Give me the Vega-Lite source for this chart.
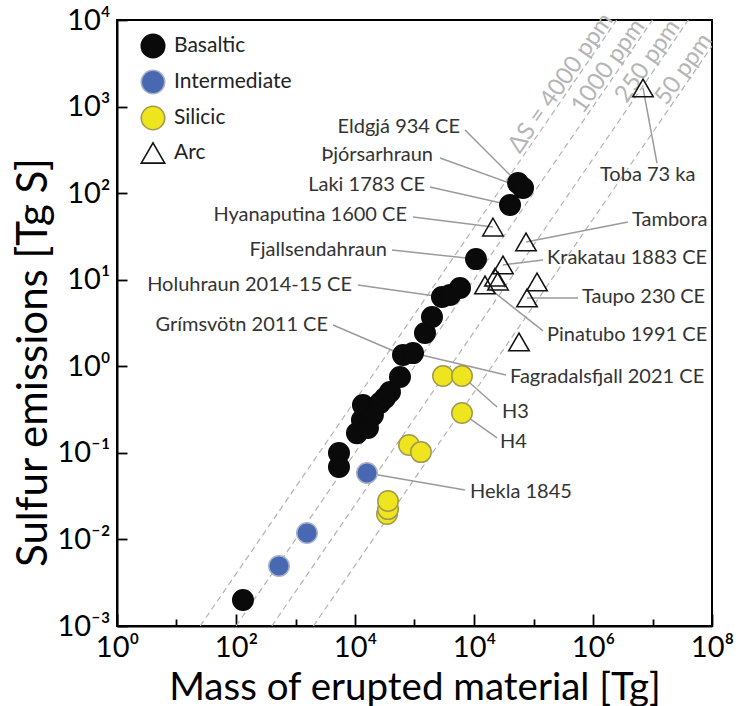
{
  "$schema": "https://vega.github.io/schema/vega-lite/v6.json",
  "width": 595,
  "height": 606,
  "autosize": "none",
  "padding": {"left": 117, "top": 20, "right": 26, "bottom": 80},
  "background": "white",
  "config": {
    "view": {"stroke": "black", "strokeWidth": 2},
    "font": "Lato",
    "legend": {
      "orient": "none", "legendX": 23, "legendY": 13, "padding": 0,
      "title": null, "symbolSize": 550, "symbolStrokeWidth": 1.6,
      "labelFont": "Lato", "labelFontSize": 21, "labelColor": "#222",
      "labelOffset": 8, "rowPadding": 6, "labelLimit": 300
    }
  },
  "datasets": {
    "dslines": [
      {"ppm": "4000", "x": 0.25, "y": 0.001}, {"ppm": "4000", "x": 2500000, "y": 10000},
      {"ppm": "1000", "x": 1, "y": 0.001}, {"ppm": "1000", "x": 10000000, "y": 10000},
      {"ppm": "250", "x": 4, "y": 0.001}, {"ppm": "250", "x": 40000000, "y": 10000},
      {"ppm": "50", "x": 20, "y": 0.001}, {"ppm": "50", "x": 100000000, "y": 5000}
    ],
    "dslabels": [
      {"t": "ΔS = 4000 ppm", "x": 399000, "y": 1596},
      {"t": "1000 ppm", "x": 2500000, "y": 2500},
      {"t": "250 ppm", "x": 11460000, "y": 2864},
      {"t": "50 ppm", "x": 46300000, "y": 2317}
    ],
    "leaders": [
      {"x": 7063, "y": 535.8, "x2": 54900, "y2": 131},
      {"x": 2685, "y": 254.6, "x2": 66600, "y2": 115},
      {"x": 1823, "y": 117.7, "x2": 40300, "y2": 72.9},
      {"x": 944, "y": 52.9, "x2": 20840, "y2": 40.6},
      {"x": 419, "y": 22.0, "x2": 10800, "y2": 17.3},
      {"x": 112, "y": 8.69, "x2": 2897, "y2": 6.31},
      {"x": 42.7, "y": 3.0, "x2": 641, "y2": 1.35},
      {"x": 34500, "y": 0.792, "x2": 944, "y2": 1.42},
      {"x": 24400, "y": 0.339, "x2": 6281, "y2": 0.773},
      {"x": 24400, "y": 0.1486, "x2": 6281, "y2": 0.288},
      {"x": 7063, "y": 0.0372, "x2": 159, "y2": 0.0585},
      {"x": 11900000, "y": 222.7, "x2": 6920000, "y2": 1641},
      {"x": 3870000, "y": 46.5, "x2": 74800, "y2": 27.3},
      {"x": 144500, "y": 16.9, "x2": 30700, "y2": 14.8},
      {"x": 560000, "y": 6.15, "x2": 77800, "y2": 6.15},
      {"x": 144500, "y": 2.56, "x2": 15300, "y2": 8.69}
    ],
    "labelsRight": [
      {"t": "Eldgjá 934 CE", "x": 5821, "y": 580.8},
      {"t": "Þjórsarhraun", "x": 2047, "y": 276},
      {"t": "Laki 1783 CE", "x": 1500, "y": 124.2},
      {"t": "Hyanaputina 1600 CE", "x": 748, "y": 55.9},
      {"t": "Fjallsendahraun", "x": 345, "y": 22.0},
      {"t": "Holuhraun 2014-15 CE", "x": 89.1, "y": 8.69},
      {"t": "Grímsvötn 2011 CE", "x": 35.2, "y": 3.0}
    ],
    "labelsLeft": [
      {"t": "Fagradalsfjall 2021 CE", "x": 40270, "y": 0.752},
      {"t": "H3", "x": 29600, "y": 0.297},
      {"t": "H4", "x": 27400, "y": 0.133},
      {"t": "Hekla 1845", "x": 8570, "y": 0.0353},
      {"t": "Toba 73 ka", "x": 1310000, "y": 162.3},
      {"t": "Tambora", "x": 4520000, "y": 49.0},
      {"t": "Krakatau 1883 CE", "x": 169000, "y": 17.8},
      {"t": "Taupo 230 CE", "x": 653000, "y": 6.31},
      {"t": "Pinatubo 1991 CE", "x": 169000, "y": 2.30}
    ],
    "points": [
      {"type": "Basaltic", "x": 1.31, "y": 0.0020},
      {"type": "Basaltic", "x": 53.8, "y": 0.0995},
      {"type": "Basaltic", "x": 53.8, "y": 0.0687},
      {"type": "Basaltic", "x": 108, "y": 0.169},
      {"type": "Basaltic", "x": 131, "y": 0.239},
      {"type": "Basaltic", "x": 136, "y": 0.357},
      {"type": "Basaltic", "x": 165, "y": 0.194},
      {"type": "Basaltic", "x": 200, "y": 0.273},
      {"type": "Basaltic", "x": 263, "y": 0.377},
      {"type": "Basaltic", "x": 319, "y": 0.430},
      {"type": "Basaltic", "x": 387, "y": 0.505},
      {"type": "Basaltic", "x": 570, "y": 0.752},
      {"type": "Basaltic", "x": 641, "y": 1.35},
      {"type": "Basaltic", "x": 944, "y": 1.42},
      {"type": "Basaltic", "x": 1500, "y": 2.42},
      {"type": "Basaltic", "x": 1968, "y": 3.71},
      {"type": "Basaltic", "x": 2897, "y": 6.31},
      {"type": "Basaltic", "x": 3953, "y": 6.65},
      {"type": "Basaltic", "x": 5821, "y": 8.02},
      {"type": "Basaltic", "x": 10800, "y": 17.3},
      {"type": "Basaltic", "x": 40300, "y": 72.9},
      {"type": "Basaltic", "x": 54900, "y": 131},
      {"type": "Basaltic", "x": 66600, "y": 115},
      {"type": "Intermediate", "x": 5.28, "y": 0.00493},
      {"type": "Intermediate", "x": 15.6, "y": 0.01186},
      {"type": "Intermediate", "x": 159, "y": 0.0585},
      {"type": "Silicic", "x": 3013, "y": 0.773},
      {"type": "Silicic", "x": 6281, "y": 0.773},
      {"type": "Silicic", "x": 6281, "y": 0.288},
      {"type": "Silicic", "x": 809, "y": 0.123},
      {"type": "Silicic", "x": 1285, "y": 0.102},
      {"type": "Silicic", "x": 345, "y": 0.0197},
      {"type": "Silicic", "x": 359, "y": 0.0224},
      {"type": "Silicic", "x": 359, "y": 0.0278},
      {"type": "Arc", "x": 6920000, "y": 1641},
      {"type": "Arc", "x": 20840, "y": 40.6},
      {"type": "Arc", "x": 74800, "y": 27.3},
      {"type": "Arc", "x": 30700, "y": 14.8},
      {"type": "Arc", "x": 22500, "y": 10.7},
      {"type": "Arc", "x": 25300, "y": 9.66},
      {"type": "Arc", "x": 15300, "y": 8.69},
      {"type": "Arc", "x": 114600, "y": 9.42},
      {"type": "Arc", "x": 77800, "y": 6.15},
      {"type": "Arc", "x": 57000, "y": 1.91}
    ]
  },
  "encoding": {
    "x": {
      "field": "x", "type": "quantitative",
      "scale": {"type": "log", "domain": [0.01, 100000000], "nice": false},
      "axis": {
        "values": [0.01, 0.1, 1, 10, 100, 1000, 10000, 100000, 1000000, 10000000, 100000000],
        "labelExpr": "round(log(datum.value)/LN10) % 2 != 0 ? '' : datum.value < 0.1 ? '10⁰' : datum.value < 10 ? '10²' : datum.value < 100000 ? '10⁴' : datum.value < 10000000 ? '10⁶' : '10⁸'",
        "tickSize": {"condition": {"test": "round(log(datum.value)/LN10) % 2 != 0", "value": -7}, "value": -12},
        "tickColor": "black", "tickWidth": 1.8,
        "domainColor": "black", "domainWidth": 2,
        "grid": false, "labelFlush": false, "labelOverlap": false, "labelBound": false,
        "labelFont": "Lato", "labelFontSize": 29, "labelColor": "black", "labelPadding": 19,
        "title": "Mass of erupted material [Tg]", "titleFont": "Lato", "titleFontSize": 38.5,
        "titleFontWeight": "normal", "titleColor": "black", "titlePadding": 2
      }
    },
    "y": {
      "field": "y", "type": "quantitative",
      "scale": {"type": "log", "domain": [0.001, 10000], "nice": false},
      "axis": {
        "values": [0.001, 0.01, 0.1, 1, 10, 100, 1000, 10000],
        "labelExpr": "datum.value < 0.005 ? '10⁻³' : datum.value < 0.05 ? '10⁻²' : datum.value < 0.5 ? '10⁻¹' : datum.value < 5 ? '10⁰' : datum.value < 50 ? '10¹' : datum.value < 500 ? '10²' : datum.value < 5000 ? '10³' : '10⁴'",
        "tickSize": -10, "tickColor": "black", "tickWidth": 1.8,
        "domainColor": "black", "domainWidth": 2,
        "grid": false, "labelFlush": false, "labelOverlap": false, "labelBound": false,
        "labelFont": "Lato", "labelFontSize": 29, "labelColor": "black", "labelPadding": 17,
        "title": "Sulfur emissions [Tg S]", "titleFont": "Lato", "titleFontSize": 42,
        "titleFontWeight": "normal", "titleColor": "black", "titlePadding": 1, "titleY": 342
      }
    }
  },
  "layer": [
    {
      "data": {"name": "dslines"},
      "mark": {"type": "line", "color": "#b3b3b3", "strokeWidth": 1.2, "strokeDash": [6, 4], "clip": true},
      "encoding": {"detail": {"field": "ppm", "type": "nominal"}}
    },
    {
      "data": {"name": "dslabels"},
      "mark": {"type": "text", "angle": -55, "align": "center", "baseline": "middle", "font": "Lato", "fontSize": 24, "color": "#b5b5b5", "dy": -10},
      "encoding": {"text": {"field": "t"}}
    },
    {
      "data": {"name": "leaders"},
      "mark": {"type": "rule", "color": "#9a9a9a", "strokeWidth": 1.5},
      "encoding": {"x2": {"field": "x2"}, "y2": {"field": "y2"}}
    },
    {
      "data": {"name": "labelsRight"},
      "mark": {"type": "text", "align": "right", "baseline": "middle", "font": "Lato", "fontSize": 20, "color": "#333333"},
      "encoding": {"text": {"field": "t"}}
    },
    {
      "data": {"name": "labelsLeft"},
      "mark": {"type": "text", "align": "left", "baseline": "middle", "font": "Lato", "fontSize": 20, "color": "#333333"},
      "encoding": {"text": {"field": "t"}}
    },
    {
      "data": {"name": "points"},
      "mark": {"type": "point", "filled": true, "opacity": 1, "size": 420, "strokeWidth": 1.5},
      "encoding": {
        "shape": {"field": "type", "type": "nominal", "scale": {"domain": ["Basaltic", "Intermediate", "Silicic", "Arc"], "range": ["circle", "circle", "circle", "triangle-up"]}},
        "fill": {"field": "type", "type": "nominal", "scale": {"domain": ["Basaltic", "Intermediate", "Silicic", "Arc"], "range": ["#0a0a0a", "#4869b1", "#efe51f", "transparent"]}},
        "stroke": {"field": "type", "type": "nominal", "scale": {"domain": ["Basaltic", "Intermediate", "Silicic", "Arc"], "range": ["#0a0a0a", "#aab2c8", "#a09a50", "#111111"]}}
      }
    }
  ]
}
